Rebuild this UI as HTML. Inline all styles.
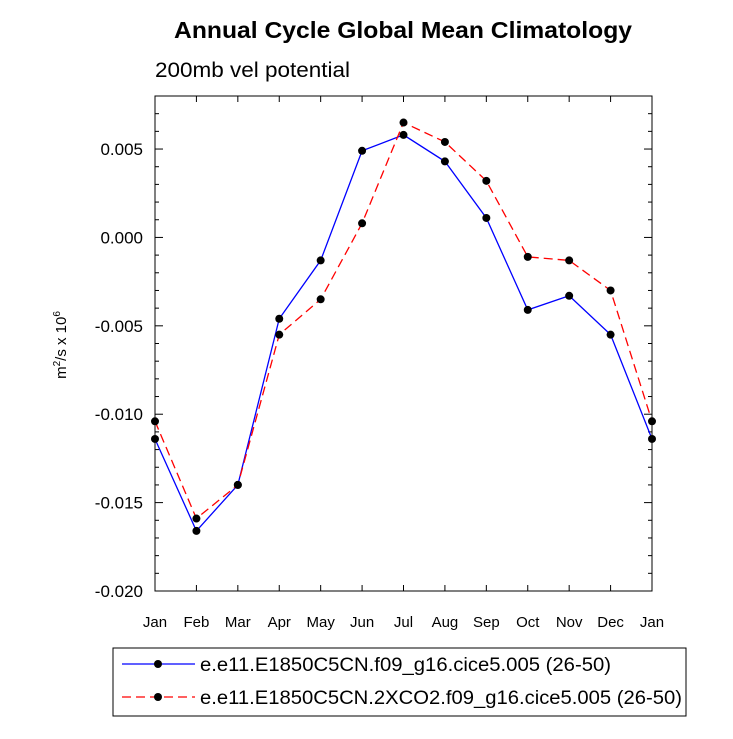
<!DOCTYPE html>
<html><head><meta charset="utf-8"><style>
body{margin:0;background:#fff;width:733px;height:734px;overflow:hidden;font-family:"Liberation Sans",Arial,sans-serif}
</style></head><body>
<svg id="chart" width="733" height="734" xmlns="http://www.w3.org/2000/svg" font-family="Liberation Sans, Arial, sans-serif">
<text x="174" y="38" font-size="23" font-weight="bold" textLength="458" lengthAdjust="spacingAndGlyphs">Annual Cycle Global Mean Climatology</text>
<text x="155" y="77" font-size="21" textLength="195" lengthAdjust="spacingAndGlyphs">200mb vel potential</text>
<text transform="translate(66,345) rotate(-90)" text-anchor="middle" font-size="15">m<tspan font-size="10" dy="-6">2</tspan><tspan dy="6">/s x 10</tspan><tspan font-size="10" dy="-6">6</tspan></text>
<rect x="155" y="96" width="497" height="495" fill="none" stroke="#000" stroke-width="1"/>
<g id="axes"></g><g id="series"></g>
<rect x="113" y="648" width="573" height="68" fill="none" stroke="#000"/>
<g>
<line x1="122" y1="664" x2="195" y2="664" stroke="#0000ff" stroke-width="1.3"/><circle cx="158" cy="664" r="4" fill="#000"/>
<text x="200" y="671" font-size="19" textLength="411" lengthAdjust="spacingAndGlyphs">e.e11.E1850C5CN.f09_g16.cice5.005 (26-50)</text></g>
<g>
<line x1="122" y1="697" x2="195" y2="697" stroke="#ff0000" stroke-width="1.3" stroke-dasharray="9,5"/><circle cx="158" cy="697" r="4" fill="#000"/>
<text x="200" y="704" font-size="19" textLength="482" lengthAdjust="spacingAndGlyphs">e.e11.E1850C5CN.2XCO2.f09_g16.cice5.005 (26-50)</text></g>
</svg>
<script>
const months=["Jan","Feb","Mar","Apr","May","Jun","Jul","Aug","Sep","Oct","Nov","Dec","Jan"];
const controlValues=[-0.0114,-0.0166,-0.0140,-0.0046,-0.0013,0.0049,0.0058,0.0043,0.0011,-0.0041,-0.0033,-0.0055,-0.0114];
const co2Values=[-0.0104,-0.0159,-0.0140,-0.0055,-0.0035,0.0008,0.0065,0.0054,0.0032,-0.0011,-0.0013,-0.0030,-0.0104];
const yTicks=[0.005,0.000,-0.005,-0.010,-0.015,-0.020];
const yTickLabels=["0.005","0.000","-0.005","-0.010","-0.015","-0.020"];
const NS="http://www.w3.org/2000/svg";
const L=155,R=652,T=96,B=591,yMin=-0.020,yMax=0.008;
const xs=i=>L+(R-L)*i/(months.length-1);
const ys=v=>B-(v-yMin)/(yMax-yMin)*(B-T);
function mk(tag,attrs,parent){const e=document.createElementNS(NS,tag);for(const k in attrs)e.setAttribute(k,attrs[k]);parent.appendChild(e);return e;}
const ax=document.getElementById('axes');
months.forEach((m,i)=>{const x=xs(i);
 const t1=mk('line',{x1:x,y1:B,x2:x,y2:B-6,stroke:'#000'},ax);
 
 
 mk('line',{x1:x,y1:T,x2:x,y2:T+6,stroke:'#000'},ax);
 const t=mk('text',{x:x,y:B+36,'text-anchor':'middle','font-size':'15'},ax);t.textContent=m;
 
 
});
for(let k=-20;k<=8;k++){const v=k/1000,y=ys(v),major=(k%5===0);const len=major?8:4;
 mk('line',{x1:L,y1:y,x2:L+len,y2:y,stroke:'#000'},ax);
 mk('line',{x1:R,y1:y,x2:R-len,y2:y,stroke:'#000'},ax);}
yTicks.forEach((v,i)=>{const t=mk('text',{x:L-12,y:ys(v)+6,'text-anchor':'end','font-size':'17'},ax);t.textContent=yTickLabels[i];
 
 });
const sg=document.getElementById('series');
function draw(vals,color,dash,name){
 const p=mk('polyline',{points:vals.map((v,i)=>xs(i)+','+ys(v)).join(' '),fill:'none',stroke:color,'stroke-width':1.3,'stroke-dasharray':dash},sg);
 
 
 vals.forEach((v,i)=>{const c=mk('circle',{cx:xs(i),cy:ys(v),r:4,fill:'#000'},sg);
  
  });
}
draw(controlValues,'#0000ff','none','control');
draw(co2Values,'#ff0000','9,5','co2');
</script>
</body></html>
